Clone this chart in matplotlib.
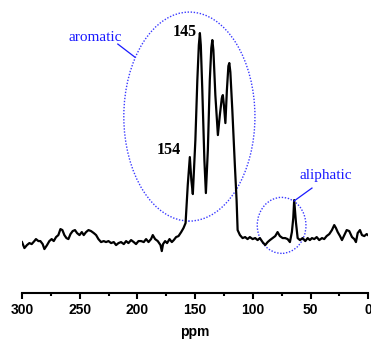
"""
13C NMR spectrum with aromatic / aliphatic regions circled
"""
import matplotlib
matplotlib.use("Agg")
import matplotlib.pyplot as plt
from matplotlib.patches import Ellipse

# chemical shift (ppm) and intensity (arbitrary units)
ppm = [300.0, 297.9, 295.7, 293.6, 291.6, 289.3, 287.9, 285.8, 284.1, 282.1,
       280.6, 278.3, 276.3, 274.3, 272.5, 270.5, 268.5, 266.7, 265.0, 263.3,
       261.5, 259.8, 258.0, 256.1, 254.1, 252.3, 250.2, 248.2, 246.5, 244.5,
       242.4, 240.2, 237.8, 235.8, 233.8, 231.5, 229.2, 227.2, 225.1, 222.8,
       220.5, 218.5, 216.4, 214.2, 211.8, 209.8, 207.8, 205.5, 203.2, 201.2,
       199.1, 196.8, 194.5, 192.5, 190.4, 188.2, 186.7, 184.7, 182.4, 180.0,
       178.9, 177.8, 176.0, 174.3, 172.2, 170.2, 168.5, 166.5, 164.4, 162.1,
       160.1, 158.3,
       156.4, 154.6, 153.3, 152.0, 149.8, 148.1, 146.8, 145.9, 145.1, 143.8,
       142.0, 140.7, 139.0, 137.3, 136.0, 135.1, 134.2, 132.5, 130.3, 128.6,
       126.9, 126.0, 125.1, 123.8, 122.5, 121.2, 120.4, 119.5, 117.8, 115.6,
       114.1, 113.2,
       111.2, 108.9, 106.7, 104.6, 102.6, 100.2, 98.0, 95.9, 93.9, 91.6,
       89.3, 87.2, 85.2, 82.9, 80.6, 78.6, 76.6, 74.2, 72.0, 69.9,
       67.9, 66.2, 65.0, 64.2, 62.7, 61.2, 59.2, 56.9, 54.6, 52.5,
       50.6, 48.8, 46.8, 44.7, 42.5, 40.1, 38.2, 36.1, 33.8, 31.5,
       29.5, 28.0, 26.5, 24.5, 22.8, 20.8, 18.7, 16.5, 14.1, 12.1,
       10.7, 9.2, 7.2, 5.5, 3.5, 1.4, 0.3]
intensity = [8, 2, 5, 7, 6, 9, 11, 9, 9, 6,
             1, 5, 9, 11, 9, 13, 15, 21, 20, 15,
             12, 11, 16, 19, 20, 17, 15, 18, 15, 18,
             20, 19, 17, 15, 11, 8, 9, 8, 9, 7,
             8, 5, 7, 8, 6, 9, 7, 10, 8, 6,
             9, 9, 8, 11, 8, 11, 15, 11, 9, 5,
             -1, 6, 9, 7, 11, 8, 10, 13, 14, 18,
             22, 27,
             65, 93, 70, 56, 110, 170, 205, 217, 205, 160,
             90, 57, 100, 170, 202, 210, 200, 155, 115, 135,
             152, 155, 145, 127, 160, 184, 187, 178, 140, 85,
             50, 20,
             15, 12, 13, 11, 13, 11, 12, 10, 12, 8,
             5, 8, 10, 12, 14, 18, 14, 12, 12, 11,
             8, 18, 32, 50, 28, 12, 10, 12, 9, 12,
             10, 12, 11, 13, 10, 12, 11, 14, 16, 20,
             25, 22, 18, 14, 10, 15, 20, 19, 13, 11,
             8, 17, 20, 15, 14, 16, 15]

peak_labels = ["145", "154"]
peak_label_pos = [(159.0, 218), (173.2, 100)]

region_names = ["aromatic", "aliphatic"]
region_text_pos = [(236.9, 213), (36.7, 75)]
region_line_from = [(217.0, 206), (48.8, 62)]
region_line_to = [(202.3, 193), (64.4, 49)]
# ellipse centre (ppm, intensity), width (ppm), height (intensity)
region_ellipses = [((155.0, 133.5), 113.6, 209), ((75.1, 24.7), 42.2, 56)]

xticks = [300, 250, 200, 150, 100, 50, 0]
xminor = [275, 225, 175, 125, 75, 25]

fig = plt.figure(figsize=(3.71, 3.40), dpi=100)
ax = fig.add_axes([0.0593, 0.138, 0.9334, 0.803])

ax.plot(ppm, intensity, color="black", lw=1.6, solid_joinstyle="round")

serif = "Liberation Serif"
for (xc, yc), w, h in region_ellipses:
    ax.add_patch(Ellipse((xc, yc), w, h, fill=False, edgecolor="#3a3aff",
                         lw=1.0, linestyle=(0, (1, 1.2)), clip_on=False))

for name, (tx, ty), p0, p1 in zip(region_names, region_text_pos,
                                  region_line_from, region_line_to):
    ax.text(tx, ty, name, color="#1a1aff", family=serif, fontsize=11,
            ha="center", va="center")
    ax.plot([p0[0], p1[0]], [p0[1], p1[1]], color="#1a1aff", lw=0.9)

for lab, (tx, ty) in zip(peak_labels, peak_label_pos):
    ax.text(tx, ty, lab, color="black", family=serif, fontsize=11.5,
            fontweight="bold", ha="center", va="center")

ax.set_xlim(300, 0)
ax.set_ylim(-43, 230)
ax.set_xticks(xticks)
ax.set_xticks(xminor, minor=True)
ax.set_xticklabels([str(t) for t in xticks], family="Liberation Sans",
                   fontweight="bold", fontsize=10)
ax.set_yticks([])
for side in ["left", "right", "top"]:
    ax.spines[side].set_visible(False)
ax.spines["bottom"].set_linewidth(1.5)
ax.tick_params(axis="x", which="major", direction="out", length=4, width=1.5, pad=3)
ax.tick_params(axis="x", which="minor", direction="out", length=2.5, width=1.5)
ax.set_xlabel("ppm", family="Liberation Sans", fontweight="bold",
              fontsize=10, labelpad=6)

fig.savefig("out.png", dpi=100)
